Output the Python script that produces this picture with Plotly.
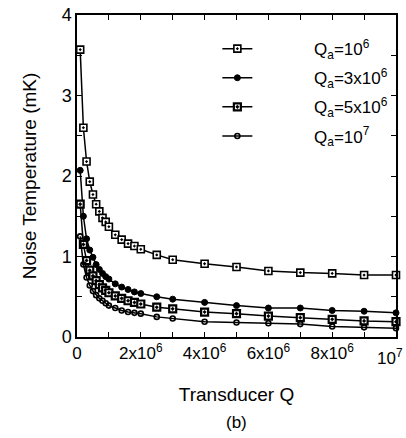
import plotly.graph_objects as go

q_transducer = [0.1e6, 0.2e6, 0.3e6, 0.4e6, 0.5e6, 0.6e6, 0.7e6, 0.8e6, 0.9e6, 1.0e6,
                1.2e6, 1.4e6, 1.6e6, 1.8e6, 2.0e6, 2.5e6, 3e6, 4e6, 5e6, 6e6, 7e6, 8e6, 9e6, 10e6]

t_qa_1e6 = [3.57, 2.60, 2.18, 1.93, 1.77, 1.65, 1.56, 1.48, 1.43, 1.37,
            1.27, 1.21, 1.16, 1.13, 1.09, 1.02, 0.96, 0.91, 0.87, 0.82, 0.80, 0.79, 0.77, 0.77]
t_qa_3e6 = [2.07, 1.50, 1.22, 1.08, 0.99, 0.90, 0.84, 0.79, 0.75, 0.72,
            0.66, 0.62, 0.59, 0.56, 0.54, 0.50, 0.47, 0.43, 0.39, 0.36, 0.36, 0.33, 0.32, 0.30]
t_qa_5e6 = [1.65, 1.15, 0.95, 0.83, 0.76, 0.70, 0.65, 0.61, 0.58, 0.55,
            0.51, 0.48, 0.45, 0.43, 0.41, 0.37, 0.35, 0.31, 0.29, 0.26, 0.24, 0.22, 0.20, 0.19]
t_qa_1e7 = [1.25, 0.90, 0.74, 0.64, 0.57, 0.52, 0.48, 0.45, 0.42, 0.39,
            0.36, 0.33, 0.31, 0.30, 0.29, 0.25, 0.23, 0.19, 0.18, 0.17, 0.16, 0.13, 0.12, 0.11]

series_names = ["Q<sub>a</sub>=10<sup>6</sup>", "Q<sub>a</sub>=3x10<sup>6</sup>",
                "Q<sub>a</sub>=5x10<sup>6</sup>", "Q<sub>a</sub>=10<sup>7</sup>"]

x_tickvals = [0, 2e6, 4e6, 6e6, 8e6, 10e6]
x_ticktext = ["0", "2x10<sup>6</sup>", "4x10<sup>6</sup>", "6x10<sup>6</sup>", "8x10<sup>6</sup>", "10<sup>7</sup>"]
y_tickvals = [0, 1, 2, 3, 4]

styles = [
    dict(symbol="square-dot", size=7, color="white", line=dict(color="black", width=1.6)),
    dict(symbol="circle", size=6, color="black", line=dict(color="black", width=1)),
    dict(symbol="square-dot", size=7, color="white", line=dict(color="black", width=2.2)),
    dict(symbol="circle-open", size=5, color="black", line=dict(color="black", width=1.6)),
]

pad = "\u00a0" * 12
fig = go.Figure()
for i, (name, ys, st) in enumerate(zip(series_names, [t_qa_1e6, t_qa_3e6, t_qa_5e6, t_qa_1e7], styles)):
    fig.add_trace(go.Scatter(x=q_transducer, y=ys, mode="lines+markers", name=pad + name,
                             legendgroup=f"g{i}",
                             line=dict(color="black", width=1.5), marker=st, cliponaxis=False))

font = dict(family="Liberation Sans, Arial, sans-serif", color="black")
fig.update_layout(
    width=406, height=438,
    margin=dict(l=77, r=10, t=15, b=101, autoexpand=False),
    paper_bgcolor="white", plot_bgcolor="white",
    font=dict(size=17, **font),
    showlegend=True,
    legend=dict(x=0.44, y=0.95, xanchor="left", yanchor="top", bgcolor="rgba(0,0,0,0)",
                font=dict(size=17, **font), tracegroupgap=4),
    xaxis=dict(range=[0, 10e6], tickvals=x_tickvals[:-1], ticktext=x_ticktext[:-1], automargin=False,
               showgrid=False, zeroline=False, showline=True, linecolor="black", linewidth=1.5,
               mirror="ticks", ticks="inside", ticklen=5, tickcolor="black",
               minor=dict(dtick=1e6, ticks="inside", ticklen=5, tickcolor="black"),
               tickfont=dict(size=17), title=dict(text="Transducer Q", font=dict(size=19), standoff=26)),
    yaxis=dict(range=[0, 4], tickvals=y_tickvals, automargin=False,
               showgrid=False, zeroline=False, showline=True, linecolor="black", linewidth=1.5,
               mirror="ticks", ticks="inside", ticklen=5, tickcolor="black",
               minor=dict(dtick=0.5, ticks="inside", ticklen=5, tickcolor="black"),
               tickfont=dict(size=18), title=dict(text="Noise Temperature (mK)", font=dict(size=19), standoff=20)),
)
# last x tick label, right-aligned so it stays inside the page
fig.add_annotation(text=x_ticktext[-1], xref="x", yref="paper", x=x_tickvals[-1], y=0,
                   xanchor="right", yanchor="top", xshift=9, yshift=-7,
                   showarrow=False, font=dict(size=17, **font))
fig.add_annotation(text="(b)", xref="paper", yref="paper", x=0.5, y=-0.265,
                   showarrow=False, font=dict(size=17, **font), yanchor="middle")
fig.write_html("out.html")
